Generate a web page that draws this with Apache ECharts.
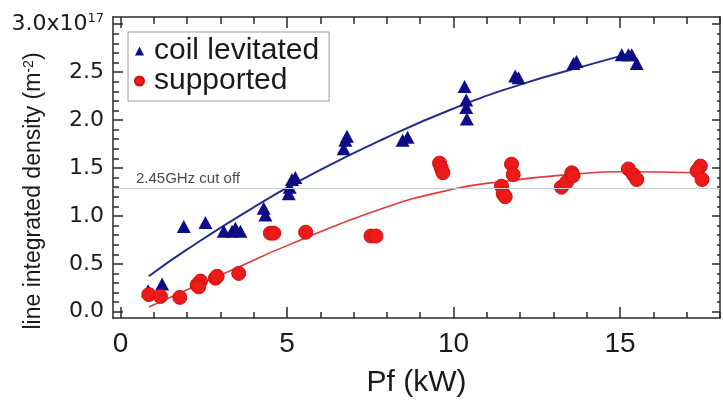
<!DOCTYPE html>
<html>
<head>
<meta charset="utf-8">
<script src="https://cdn.jsdelivr.net/npm/echarts@6/dist/echarts.min.js"></script>
<style>
  html, body { margin: 0; padding: 0; background: #fff; }
  #chart { width: 723px; height: 403px; }
</style>
</head>
<body>
<div id="chart"></div>
<script>
// Data (x = Pf in kW, y = density in units of 1e17 m^-2)
const levX = [0.83, 1.25, 1.9, 2.55, 3.1, 3.35, 3.6, 3.45, 4.3, 4.35, 5.05, 5.08, 5.15, 5.25, 6.75, 6.7, 6.8, 8.47, 8.62, 10.33, 10.38, 10.38, 10.4, 11.85, 11.95, 13.6, 13.69, 15.05, 15.25, 15.35, 15.5];
const levY = [0.22, 0.29, 0.89, 0.93, 0.84, 0.84, 0.84, 0.87, 1.08, 1.01, 1.23, 1.30, 1.38, 1.40, 1.79, 1.70, 1.83, 1.79, 1.82, 2.35, 2.21, 2.13, 2.01, 2.46, 2.44, 2.59, 2.61, 2.68, 2.68, 2.68, 2.59];

const supX = [0.85, 1.2, 1.78, 2.3, 2.4, 2.35, 2.85, 2.9, 3.55, 4.5, 4.6, 5.56, 7.52, 7.67, 9.58, 9.63, 9.68, 11.74, 11.79, 11.44, 11.49, 11.55, 13.24, 13.39, 13.55, 13.59, 15.25, 15.4, 15.5, 17.41, 17.31, 17.46];
const supY = [0.18, 0.16, 0.15, 0.28, 0.32, 0.26, 0.35, 0.37, 0.40, 0.82, 0.82, 0.83, 0.79, 0.79, 1.55, 1.50, 1.45, 1.54, 1.43, 1.31, 1.23, 1.20, 1.30, 1.35, 1.45, 1.42, 1.49, 1.43, 1.38, 1.52, 1.47, 1.38];

// fitted curves
const levFitX = [0.85, 2, 4, 6, 8, 10, 12, 14, 15.25];
const levFitY = [0.37, 0.65, 1.09, 1.48, 1.82, 2.12, 2.37, 2.57, 2.69];
const supFitX = [0.85, 2, 3.5, 5, 7.8, 10, 11.6, 13.6, 15, 17.35];
const supFitY = [0.05, 0.23, 0.46, 0.69, 1.07, 1.28, 1.365, 1.435, 1.46, 1.45];

const cutoff = 1.29;
const cutoffLabel = '2.45GHz cut off';

const xMajor = [0, 5, 10, 15];
const xMinor = [1, 2, 3, 4, 6, 7, 8, 9, 11, 12, 13, 14, 16, 17, 18];
const yMajor = [0, 0.5, 1.0, 1.5, 2.0, 2.5, 3.0];
const yMinor = [0.1, 0.2, 0.3, 0.4, 0.6, 0.7, 0.8, 0.9, 1.1, 1.2, 1.3, 1.4, 1.6, 1.7, 1.8, 1.9, 2.1, 2.2, 2.3, 2.4, 2.6, 2.7, 2.8, 2.9];

const X_MIN = -0.225, X_MAX = 18;
const Y_MIN = -0.065, Y_MAX = 3.075;

const zip = (xs, ys) => xs.map((x, i) => [x, ys[i]]);

const AXIS_COLOR = '#2a2a2a';

// helper: a bare axis used only to draw ticks / frame lines
function tickAxis(kind, position, values, len, showLine) {
  return {
    type: 'value',
    position: position,
    min: kind === 'x' ? X_MIN : Y_MIN,
    max: kind === 'x' ? X_MAX : Y_MAX,
    axisLine: { show: showLine, onZero: false, lineStyle: { color: AXIS_COLOR, width: 1.5 } },
    axisTick: { show: true, inside: true, length: len, customValues: values, lineStyle: { color: AXIS_COLOR, width: 1.5 } },
    axisLabel: { show: false },
    splitLine: { show: false }
  };
}

const chart = echarts.init(document.getElementById('chart'));

chart.setOption({
  animation: false,
  backgroundColor: '#fff',
  grid: { left: 113, right: 3, top: 17, bottom: 79 },
  legend: {
    left: 128,
    top: 32,
    orient: 'vertical',
    data: ['coil levitated', 'supported'],
    borderColor: '#999',
    borderWidth: 1,
    padding: [4, 10, 5, 6],
    itemGap: 0,
    itemWidth: 9,
    itemHeight: 9,
    textStyle: {
      fontFamily: 'Liberation Sans',
      fontSize: 30,
      color: '#1a1a1a',
      lineHeight: 26,
      padding: [0, 0, 0, 5]
    }
  },
  xAxis: [
    {
      type: 'value',
      position: 'bottom',
      min: X_MIN, max: X_MAX,
      axisLine: { show: true, onZero: false, lineStyle: { color: AXIS_COLOR, width: 1.5 } },
      axisTick: { show: true, inside: true, length: 11, customValues: xMajor, lineStyle: { color: AXIS_COLOR, width: 1.5 } },
      axisLabel: {
        customValues: xMajor,
        fontFamily: 'Liberation Sans', fontSize: 28, color: '#1a1a1a', margin: 12
      },
      splitLine: { show: false },
      name: 'Pf (kW)',
      nameLocation: 'middle',
      nameGap: 50,
      nameTextStyle: { fontFamily: 'Liberation Sans', fontSize: 30, color: '#1a1a1a' }
    },
    tickAxis('x', 'bottom', xMinor, 6, false),
    tickAxis('x', 'top', xMajor, 11, true),
    tickAxis('x', 'top', xMinor, 7, false)
  ],
  yAxis: [
    {
      type: 'value',
      position: 'left',
      min: Y_MIN, max: Y_MAX,
      axisLine: { show: true, onZero: false, lineStyle: { color: AXIS_COLOR, width: 1.5 } },
      axisTick: { show: true, inside: true, length: 10, customValues: yMajor, lineStyle: { color: AXIS_COLOR, width: 1.5 } },
      axisLabel: {
        customValues: yMajor,
        margin: 9,
        formatter: v => Math.abs(v - 3) < 1e-6 ? '{a|3.0x10}{s|17}' : '{a|' + v.toFixed(1) + '}',
        rich: {
          a: { fontFamily: 'DejaVu Sans', fontSize: 22, color: '#1a1a1a' },
          s: { fontFamily: 'DejaVu Sans', fontSize: 13, color: '#1a1a1a', verticalAlign: 'top', padding: [0, 0, 12, 0] }
        }
      },
      splitLine: { show: false }
    },
    tickAxis('y', 'left', yMinor, 6, false),
    tickAxis('y', 'right', yMajor, 8, true),
    tickAxis('y', 'right', yMinor, 3, false)
  ],
  graphic: [
    {
      type: 'text',
      x: 34,
      y: 191,
      rotation: Math.PI / 2,
      style: {
        text: '{n|line integrated density (m}{s|-2}{n|)}',
        align: 'center',
        verticalAlign: 'middle',
        rich: {
          n: { fontFamily: 'Liberation Sans', fontSize: 23, fill: '#1a1a1a' },
          s: { fontFamily: 'Liberation Sans', fontSize: 14, fill: '#1a1a1a', verticalAlign: 'top', padding: [0, 0, 10, 0] }
        }
      }
    }
  ],
  series: [
    {
      name: 'cutoff',
      type: 'line',
      data: [],
      silent: true,
      markLine: {
        silent: true,
        symbol: 'none',
        lineStyle: { color: '#c6ced8', width: 1, type: 'solid' },
        label: {
          show: true,
          position: 'insideStartTop',
          formatter: cutoffLabel,
          fontFamily: 'Liberation Sans',
          fontSize: 15,
          color: '#4a4a4a',
          distance: [23, 2]
        },
        data: [{ yAxis: cutoff }]
      }
    },
    {
      name: 'lev fit',
      type: 'line',
      smooth: true,
      symbol: 'none',
      data: zip(levFitX, levFitY),
      lineStyle: { color: '#232d8c', width: 2 },
      z: 2
    },
    {
      name: 'sup fit',
      type: 'line',
      smooth: true,
      symbol: 'none',
      data: zip(supFitX, supFitY),
      lineStyle: { color: '#e03b3b', width: 1.6 },
      z: 2
    },
    {
      name: 'coil levitated',
      type: 'scatter',
      symbol: 'triangle',
      symbolSize: [14, 13],
      data: zip(levX, levY),
      itemStyle: { color: '#0d0d87', opacity: 1 },
      z: 3
    },
    {
      name: 'supported',
      type: 'scatter',
      symbol: 'circle',
      symbolSize: 14,
      data: zip(supX, supY),
      itemStyle: { color: '#ee1a1a', borderColor: '#d01010', borderWidth: 1, opacity: 1 },
      z: 3
    }
  ]
});
</script>
</body>
</html>
